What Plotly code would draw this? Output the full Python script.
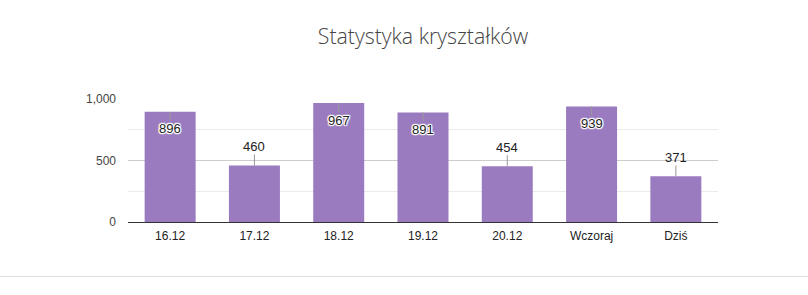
import plotly.graph_objects as go

categories = ["16.12", "17.12", "18.12", "19.12", "20.12", "Wczoraj", "Dziś"]
values = [896, 460, 967, 891, 454, 939, 371]
tick_vals = [0, 500, 1000]
tick_text = ["0", "500", "1,000"]
title_text = "Statystyka kryształków"

positions = list(range(len(categories)))

fig = go.Figure()
fig.add_trace(go.Bar(
    x=positions, y=values,
    marker=dict(color="#9b7bbf", line=dict(width=0)),
    width=0.605, hovertext=categories, hoverinfo="text+y",
))

halo = "1px 0 1px #fff, -1px 0 1px #fff, 0 1px 1px #fff, 0 -1px 1px #fff, 1px 1px 1px #fff, -1px -1px 1px #fff, 1px -1px 1px #fff, -1px 1px 1px #fff"
for p, v in zip(positions, values):
    inside = v > 800
    fig.add_annotation(
        x=p, y=v, xref="x", yref="y",
        text=str(v), showarrow=True, arrowhead=0, arrowwidth=1,
        arrowcolor="#999999", ax=0, ay=(17 if inside else -19),
        font=dict(family="Arial, Liberation Sans", size=13, color="#222222",
                  shadow=halo if inside else "none"),
        bgcolor="rgba(0,0,0,0)", borderpad=0,
    )

fig.add_shape(type="line", xref="paper", yref="paper",
              x0=-128/590, x1=(808-128)/590, y0=(222-276.5)/123, y1=(222-276.5)/123,
              line=dict(color="#dddddd", width=1))

fig.update_layout(
    width=808, height=295,
    margin=dict(l=128, r=90, t=99, b=73),
    paper_bgcolor="white", plot_bgcolor="white",
    title=dict(text=title_text, x=0.5, xanchor="center", xref="paper",
               y=1 - 37/295, yanchor="middle",
               font=dict(family="Open Sans", size=21.3, color="#444444", weight=300)),
    showlegend=False,
    xaxis=dict(range=[-0.5, len(categories) - 0.5], tickvals=positions, ticktext=categories,
               showgrid=False, ticks="", showline=False, zeroline=False, tickangle=0,
               ticklabelstandoff=5,
               tickfont=dict(family="Arial, Liberation Sans", size=12, color="#222222")),
    yaxis=dict(range=[0, 1000], tickvals=tick_vals, ticktext=tick_text,
               showgrid=True, gridcolor="#cccccc", gridwidth=1,
               zeroline=True, zerolinecolor="#333333", zerolinewidth=1,
               ticks="", ticklabelstandoff=11,
               minor=dict(tickvals=[250, 750], showgrid=True, gridcolor="#ebebeb", gridwidth=1),
               tickfont=dict(family="Arial, Liberation Sans", size=12, color="#444444")),
)

fig.write_html("out.html")
